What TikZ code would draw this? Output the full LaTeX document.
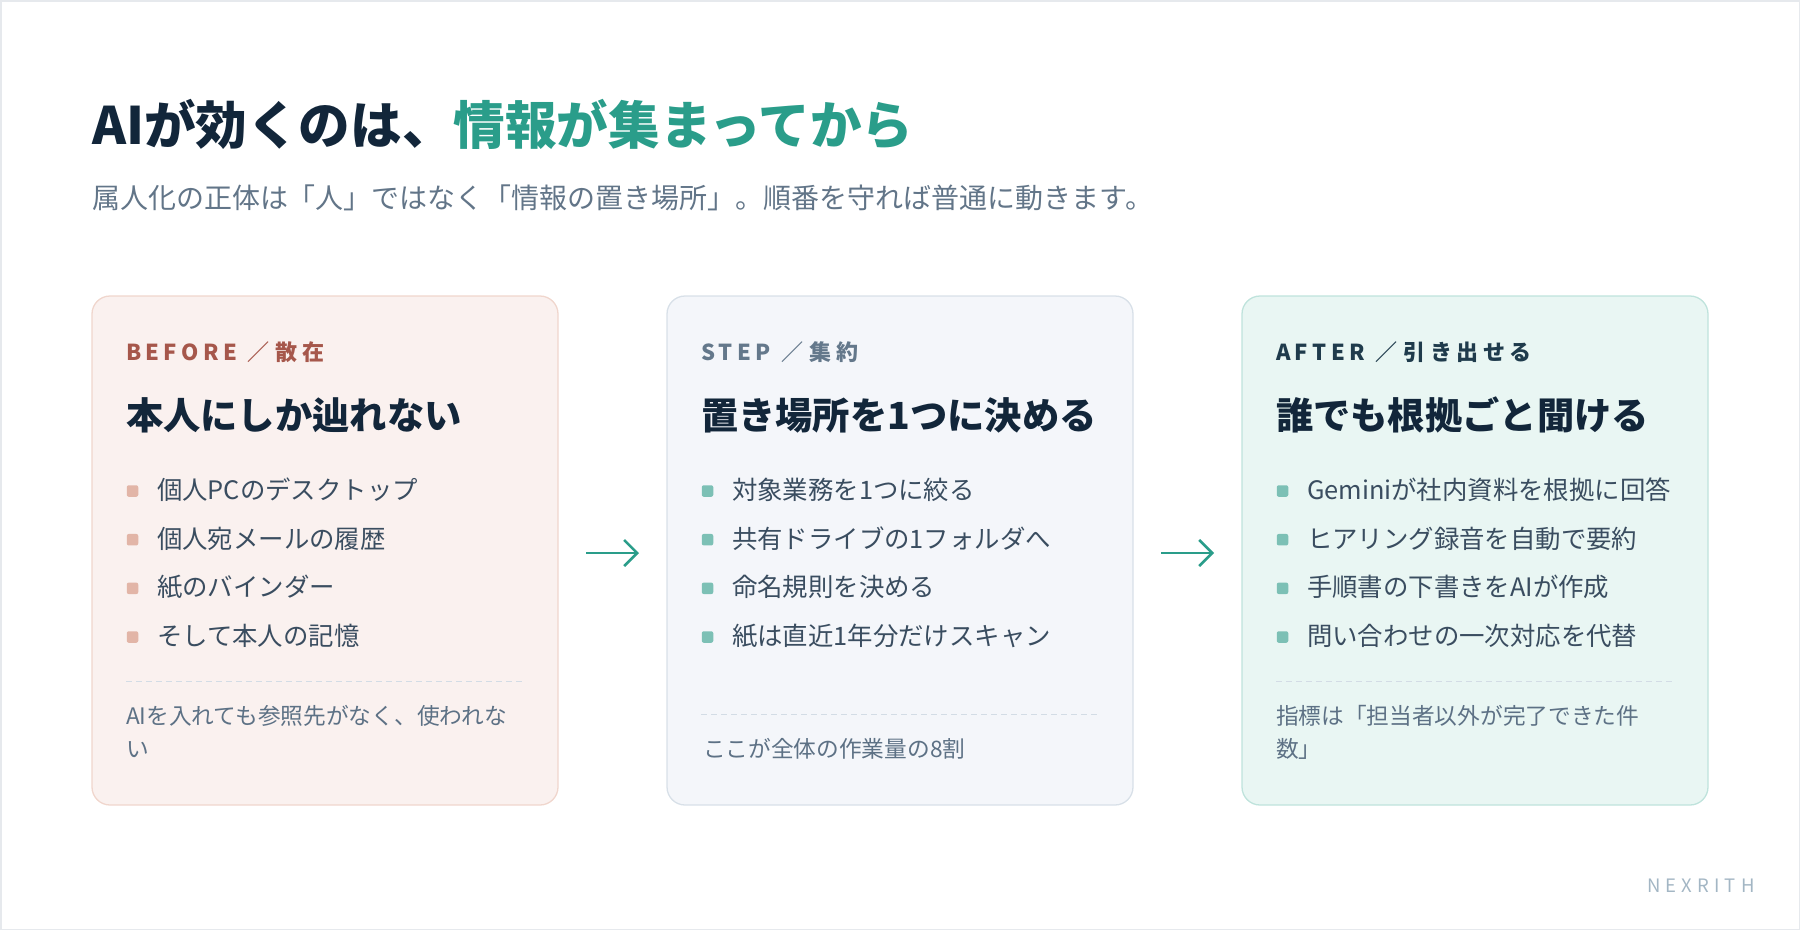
\documentclass[tikz,border=0pt]{standalone}
\usepackage{fontspec}
\setmainfont{Noto Sans CJK JP}
\newfontfamily\spacedfont[LetterSpace=20]{Noto Sans CJK JP}
\newfontfamily\brandfont[LetterSpace=28]{Noto Sans CJK JP}
\usetikzlibrary{arrows.meta}
\definecolor{navy}{HTML}{12263A}
\definecolor{teal}{HTML}{2A9D8A}
\definecolor{subgray}{HTML}{627588}
\definecolor{itemtext}{HTML}{3A4D60}
\definecolor{footgray}{HTML}{5D7185}
\definecolor{lblbefore}{HTML}{A6574B}
\definecolor{lblstep}{HTML}{64788B}
\definecolor{lblafter}{HTML}{1F3B4C}
\definecolor{fillbefore}{HTML}{FAF1EF}
\definecolor{drawbefore}{HTML}{F0D6CD}
\definecolor{fillstep}{HTML}{F4F6FA}
\definecolor{drawstep}{HTML}{D8E0E8}
\definecolor{fillafter}{HTML}{E9F6F3}
\definecolor{drawafter}{HTML}{BFE3DC}
\definecolor{bulbefore}{HTML}{E2B5A7}
\definecolor{bulteal}{HTML}{7CC0B5}
\definecolor{sepcol}{HTML}{D3DCE5}
\definecolor{brandcol}{HTML}{A3B6C4}
\definecolor{framecol}{HTML}{E6E9ED}
\newcommand{\lsep}{\hspace{11pt}／\hspace{6pt}}
\tikzset{
  card/.style={rounded corners=18pt, line width=1.3pt, minimum width=466pt, minimum height=509pt, inner sep=0pt, outer sep=0pt},
  cardbefore/.style={card, fill=fillbefore, draw=drawbefore},
  cardstep/.style={card, fill=fillstep, draw=drawstep},
  cardafter/.style={card, fill=fillafter, draw=drawafter},
  txt/.style={anchor=base west, inner sep=0pt, outer sep=0pt},
  lbl/.style={txt, font=\spacedfont\bfseries\fontsize{22}{22}\selectfont},
  head/.style={txt, font=\bfseries\fontsize{37.3}{37.3}\selectfont, text=navy},
  item/.style={txt, font=\fontsize{25.4}{25.4}\selectfont, text=itemtext},
  foot/.style={txt, font=\fontsize{22.7}{22.7}\selectfont, text=footgray},
  bul/.style={rectangle, rounded corners=2pt, minimum size=11.5pt, inner sep=0pt},
  sepline/.style={draw=sepcol, line width=1.2pt, dash pattern=on 6pt off 4pt},
  arr/.style={draw=teal, line width=2.6pt, -{Straight Barb[length=13pt,width=26pt,line width=2.6pt]}}
}
\begin{document}
\begin{tikzpicture}[x=1pt,y=-1pt]
\useasboundingbox (0,0) rectangle (1800,930);
\draw[framecol, line width=1.5pt] (0.75,0.75) rectangle (1799.25,929.25);

% title
\node[txt, font=\bfseries\fontsize{51.6}{51.6}\selectfont, text=navy] (title) at (92,144.5)
  {AIが効くのは、\textcolor{teal}{情報が集まってから}};
\node[txt, font=\fontsize{28}{28}\selectfont, text=subgray] (subtitle) at (92,208)
  {属人化の正体は「人」ではなく「情報の置き場所」。順番を守れば普通に動きます。};

% cards
\node[cardbefore] (c1) at (325,550.5) {};
\node[cardstep]   (c2) at (900,550.5) {};
\node[cardafter]  (c3) at (1475,550.5) {};

% arrows
\draw[arr] ([xshift=28pt,yshift=-2.5pt]c1.east) -- ([xshift=-28pt,yshift=-2.5pt]c2.west);
\draw[arr] ([xshift=28pt,yshift=-2.5pt]c2.east) -- ([xshift=-28pt,yshift=-2.5pt]c3.west);

% card 1
\node[lbl, text=lblbefore] (l1) at (126,360) {BEFORE\lsep 散在};
\node[head] (h1) at (126,429) {本人にしか辿れない};
\node[bul, fill=bulbefore] (q1a) at (132.5,491) {};
\node[bul, fill=bulbefore] (q1b) at (132.5,539.7) {};
\node[bul, fill=bulbefore] (q1c) at (132.5,588.3) {};
\node[bul, fill=bulbefore] (q1d) at (132.5,637) {};
\node[item] (i1a) at (157,499.5) {個人PCのデスクトップ};
\node[item] (i1b) at (157,548.2) {個人宛メールの履歴};
\node[item] (i1c) at (157,596.8) {紙のバインダー};
\node[item] (i1d) at (157,645.5) {そして本人の記憶};
\coordinate (s1a) at (126,681.5);
\coordinate (s1b) at (523,681.5);
\draw[sepline] (s1a) -- (s1b);
\node[foot] (f1a) at (126,724.5) {AIを入れても参照先がなく、使われな};
\node[foot] (f1b) at (126,757) {い};

% card 2
\node[lbl, text=lblstep] (l2) at (701,360) {STEP\lsep 集約};
\node[head] (h2) at (701,429) {置き場所を1つに決める};
\node[bul, fill=bulteal] (q2a) at (707.5,491) {};
\node[bul, fill=bulteal] (q2b) at (707.5,539.7) {};
\node[bul, fill=bulteal] (q2c) at (707.5,588.3) {};
\node[bul, fill=bulteal] (q2d) at (707.5,637) {};
\node[item] (i2a) at (732,499.5) {対象業務を1つに絞る};
\node[item] (i2b) at (732,548.2) {共有ドライブの1フォルダへ};
\node[item] (i2c) at (732,596.8) {命名規則を決める};
\node[item] (i2d) at (732,645.5) {紙は直近1年分だけスキャン};
\coordinate (s2a) at (701,714.5);
\coordinate (s2b) at (1098,714.5);
\draw[sepline] (s2a) -- (s2b);
\node[foot] (f2a) at (703,757) {ここが全体の作業量の8割};

% card 3
\node[lbl, text=lblafter] (l3) at (1276,360) {AFTER\lsep 引き出せる};
\node[head] (h3) at (1276,429) {誰でも根拠ごと聞ける};
\node[bul, fill=bulteal] (q3a) at (1282.5,491) {};
\node[bul, fill=bulteal] (q3b) at (1282.5,539.7) {};
\node[bul, fill=bulteal] (q3c) at (1282.5,588.3) {};
\node[bul, fill=bulteal] (q3d) at (1282.5,637) {};
\node[item] (i3a) at (1307,499.5) {Geminiが社内資料を根拠に回答};
\node[item] (i3b) at (1307,548.2) {ヒアリング録音を自動で要約};
\node[item] (i3c) at (1307,596.8) {手順書の下書きをAIが作成};
\node[item] (i3d) at (1307,645.5) {問い合わせの一次対応を代替};
\coordinate (s3a) at (1276,681.5);
\coordinate (s3b) at (1673,681.5);
\draw[sepline] (s3a) -- (s3b);
\node[foot] (f3a) at (1276,724.5) {指標は「担当者以外が完了できた件};
\node[foot] (f3b) at (1276,757) {数」};

% brand
\node[txt, font=\brandfont\fontsize{18.5}{18.5}\selectfont, text=brandcol] (brand) at (1647,892.5) {NEXRITH};
\end{tikzpicture}
\end{document}
